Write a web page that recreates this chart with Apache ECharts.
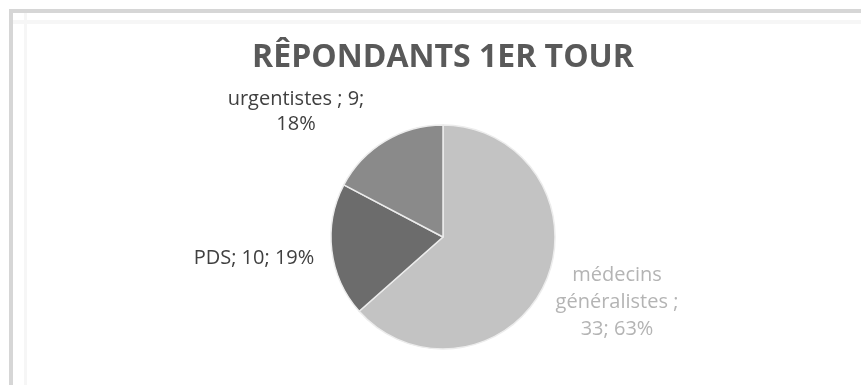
<!DOCTYPE html>
<html>
<head>
<meta charset="utf-8">
<script src="https://cdn.jsdelivr.net/npm/echarts@6/dist/echarts.min.js"></script>
<style>
  html, body { margin: 0; padding: 0; background: #ffffff; }
  #chart { width: 861px; height: 385px; }
</style>
</head>
<body>
<div id="chart"></div>
<script>
// Respondents of the first round, by group
const categories = ['médecins généralistes', 'PDS', 'urgentistes'];
const counts = [33, 10, 9];
const shares = ['63%', '19%', '18%'];
const sliceColors = ['#c3c3c3', '#6c6c6c', '#8a8a8a'];
const labelColors = ['#b4b4b4', '#404040', '#404040'];
const titleText = 'RÊPONDANTS 1ER TOUR';

// Label text for each slice, wrapped the way it is laid out
function labelText(i) {
  if (i === 0) return 'médecins\ngénéralistes ;\n' + counts[i] + '; ' + shares[i];
  if (i === 2) return categories[i] + ' ; ' + counts[i] + ';\n' + shares[i];
  return categories[i] + '; ' + counts[i] + '; ' + shares[i];
}

// Where each label block sits (centre of the block) and its line spacing
const labelSpots = [[617, 302], [254, 258], [296, 112]];
const labelLineHeights = [27, 24, 25];

const chart = echarts.init(document.getElementById('chart'), null, { renderer: 'canvas' });

chart.setOption({
  animation: false,
  backgroundColor: '#ffffff',
  title: {
    text: titleText,
    left: 438,
    top: 37,
    textAlign: 'center',
    textStyle: {
      fontFamily: 'Open Sans, sans-serif',
      fontWeight: 'bold',
      fontSize: 32,
      color: '#595959'
    }
  },
  graphic: [
    { type: 'rect', shape: { x: 9, y: 9, width: 852, height: 4 }, style: { fill: '#d6d6d6' }, silent: true },
    { type: 'rect', shape: { x: 9, y: 9, width: 4, height: 376 }, style: { fill: '#d6d6d6' }, silent: true },
    { type: 'rect', shape: { x: 13, y: 20, width: 848, height: 4 }, style: { fill: '#f6f6f6' }, silent: true },
    { type: 'rect', shape: { x: 24, y: 13, width: 3, height: 372 }, style: { fill: '#f6f6f6' }, silent: true }
  ],
  series: [{
    type: 'pie',
    center: [443, 237],
    radius: 112,
    startAngle: 90,
    clockwise: true,
    itemStyle: { borderColor: '#ececec', borderWidth: 1.5 },
    label: {
      show: true,
      position: 'outside',
      fontFamily: 'Open Sans, sans-serif',
      fontSize: 20,
      align: 'center'
    },
    labelLine: { show: false },
    labelLayout: (params) => ({
      x: labelSpots[params.dataIndex][0],
      y: labelSpots[params.dataIndex][1],
      align: 'center',
      verticalAlign: 'middle'
    }),
    emphasis: { disabled: true },
    data: categories.map((name, i) => ({
      name: name,
      value: counts[i],
      itemStyle: { color: sliceColors[i] },
      label: {
        color: labelColors[i],
        lineHeight: labelLineHeights[i],
        formatter: labelText(i)
      }
    }))
  }]
});
</script>
</body>
</html>
